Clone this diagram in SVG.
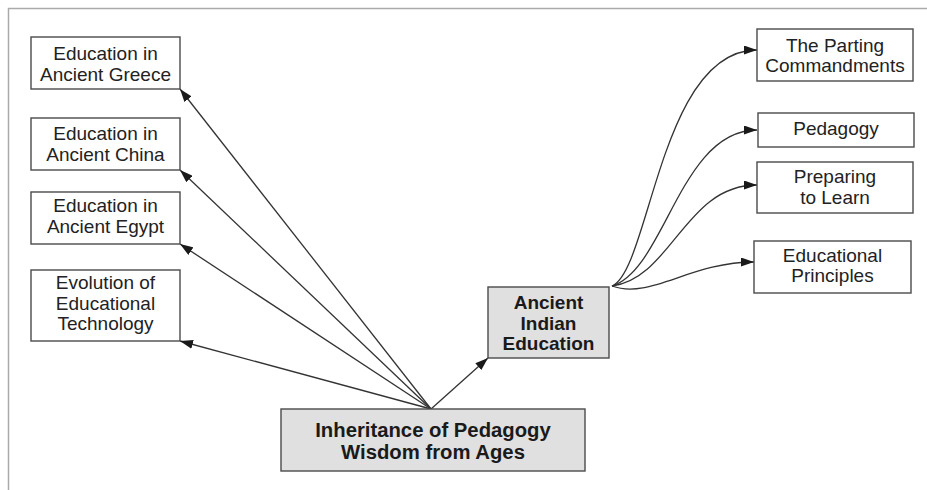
<svg xmlns="http://www.w3.org/2000/svg" width="927" height="490" viewBox="0 0 927 490">
  <style>
    .box { fill: #ffffff; stroke: #4a4a4a; stroke-width: 1.4; }
    .hub { fill: #e0e0e0; stroke: #4a4a4a; stroke-width: 1.4; }
    .t { font-family: "Liberation Sans", Arial, sans-serif; font-size: 19px; fill: #222; text-anchor: middle; }
    .tb { font-family: "Liberation Sans", Arial, sans-serif; font-weight: bold; fill: #1a1a1a; text-anchor: middle; }
    .edge { fill: none; stroke: #333; stroke-width: 1.3; marker-end: url(#arrow); }
  </style>
  <defs>
    <marker id="arrow" viewBox="0 0 13 9" refX="13" refY="4.5" markerWidth="13" markerHeight="9" markerUnits="userSpaceOnUse" orient="auto">
      <path d="M0,0 L13,4.5 L0,9 Z" fill="#1a1a1a"/>
    </marker>
  </defs>

  <!-- page frame -->
  <path d="M8.5,490 V8.5 H927" fill="none" stroke="#aaaaaa" stroke-width="1.5"/>

  <g id="connectors">
    <line class="edge" x1="431" y1="409" x2="180" y2="89"/>
    <line class="edge" x1="431" y1="409" x2="180" y2="170"/>
    <line class="edge" x1="431" y1="409" x2="180" y2="244"/>
    <line class="edge" x1="431" y1="409" x2="180" y2="341"/>
    <line class="edge" x1="431" y1="409" x2="488" y2="358"/>
    <path class="edge" d="M612,286 C650,270 660,50 757,50"/>
    <path class="edge" d="M612,286 C665,270 680,130 757,130"/>
    <path class="edge" d="M612,286 C672,278 685,185 757,185"/>
    <path class="edge" d="M612,286 C650,300 690,262 754,262"/>
  </g>

  <g id="greece">
    <rect class="box" x="31" y="37" width="149" height="52"/>
    <text class="t" x="105.5" y="60">Education in</text>
    <text class="t" x="105.5" y="81">Ancient Greece</text>
  </g>
  <g id="china">
    <rect class="box" x="31" y="118" width="149" height="52"/>
    <text class="t" x="105.5" y="140">Education in</text>
    <text class="t" x="105.5" y="161">Ancient China</text>
  </g>
  <g id="egypt">
    <rect class="box" x="31" y="192" width="149" height="52"/>
    <text class="t" x="105.5" y="212">Education in</text>
    <text class="t" x="105.5" y="233">Ancient Egypt</text>
  </g>
  <g id="technology">
    <rect class="box" x="31" y="270" width="149" height="71"/>
    <text class="t" x="105.5" y="289">Evolution of</text>
    <text class="t" x="105.5" y="310">Educational</text>
    <text class="t" x="105.5" y="330">Technology</text>
  </g>

  <g id="inheritance">
    <rect class="hub" x="281" y="409" width="304" height="62"/>
    <text class="tb" x="433" y="437" font-size="20.3">Inheritance of Pedagogy</text>
    <text class="tb" x="433" y="459" font-size="20.3">Wisdom from Ages</text>
  </g>

  <g id="indian">
    <rect class="hub" x="488" y="287" width="121" height="71"/>
    <text class="tb" x="548.5" y="309" font-size="19">Ancient</text>
    <text class="tb" x="548.5" y="330" font-size="19">Indian</text>
    <text class="tb" x="548.5" y="350" font-size="19">Education</text>
  </g>

  <g id="parting">
    <rect class="box" x="757" y="29" width="156" height="52"/>
    <text class="t" x="835" y="52">The Parting</text>
    <text class="t" x="835" y="72">Commandments</text>
  </g>
  <g id="pedagogy">
    <rect class="box" x="758" y="113" width="156" height="34"/>
    <text class="t" x="836" y="135">Pedagogy</text>
  </g>
  <g id="preparing">
    <rect class="box" x="757" y="162" width="156" height="51"/>
    <text class="t" x="835" y="183">Preparing</text>
    <text class="t" x="835" y="204">to Learn</text>
  </g>
  <g id="principles">
    <rect class="box" x="754" y="241" width="157" height="52"/>
    <text class="t" x="832.5" y="262">Educational</text>
    <text class="t" x="832.5" y="282">Principles</text>
  </g>
</svg>
